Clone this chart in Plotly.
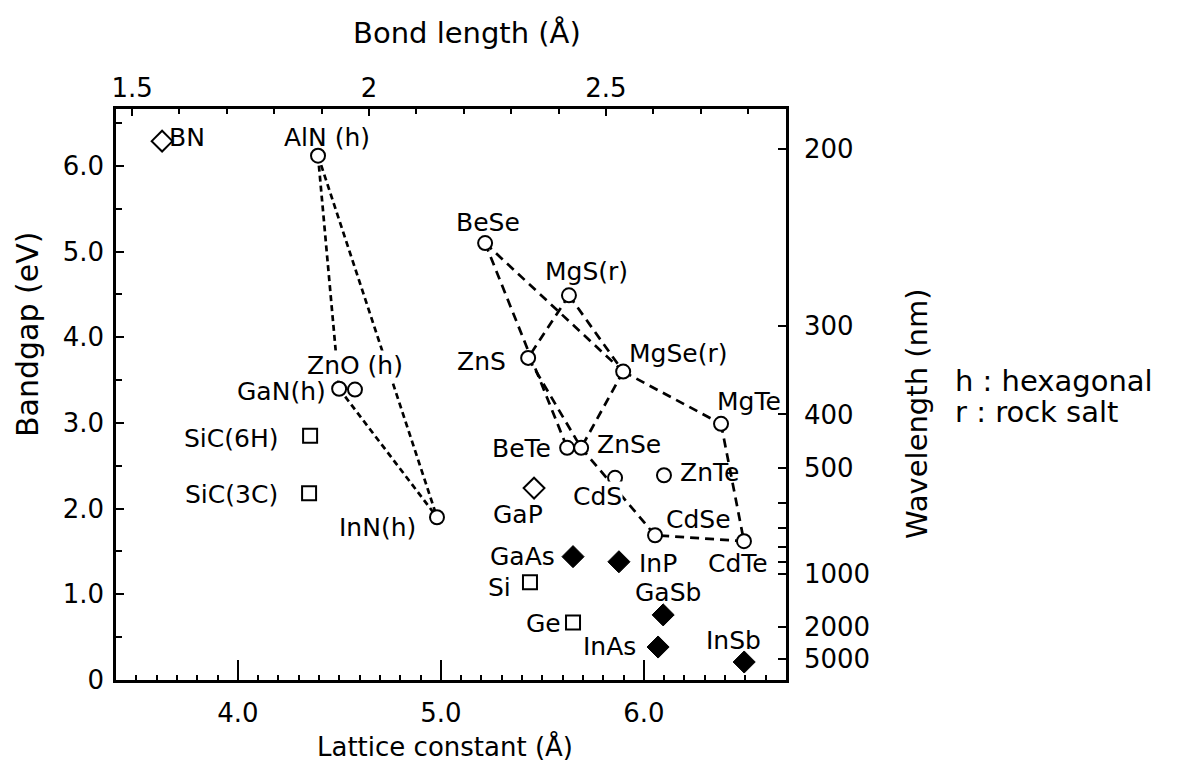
import plotly.graph_objects as go

# ---------------- data ----------------
names = ["BN", "AlN", "GaN", "ZnO", "InN", "SiC(6H)", "SiC(3C)", "BeSe", "MgS", "ZnS",
         "MgSe", "MgTe", "BeTe", "ZnSe", "CdS", "ZnTe", "CdSe", "CdTe", "GaP", "GaAs",
         "InP", "Si", "Ge", "GaSb", "InAs", "InSb"]
labels = ["BN", "AlN (h)", "GaN(h)", "ZnO (h)", "InN(h)", "SiC(6H)", "SiC(3C)", "BeSe", "MgS(r)", "ZnS",
          "MgSe(r)", "MgTe", "BeTe", "ZnSe", "CdS", "ZnTe", "CdSe", "CdTe", "GaP", "GaAs",
          "InP", "Si", "Ge", "GaSb", "InAs", "InSb"]
lattice = [3.627, 4.395, 4.499, 4.577, 4.981, 4.356, 4.351, 5.218, 5.631, 5.430,
           5.898, 6.380, 5.622, 5.691, 5.858, 6.099, 6.055, 6.493, 5.459, 5.651,
           5.877, 5.439, 5.651, 6.095, 6.070, 6.494]
bandgap = [6.29, 6.12, 3.40, 3.39, 1.90, 2.85, 2.18, 5.10, 4.49, 3.76,
           3.60, 2.99, 2.71, 2.71, 2.36, 2.39, 1.69, 1.62, 2.24, 1.44,
           1.38, 1.14, 0.67, 0.76, 0.385, 0.21]
kind = ["diamond-open", "circle", "circle", "circle", "circle", "square", "square", "circle", "circle", "circle",
        "circle", "circle", "circle", "circle", "circle", "circle", "circle", "circle", "diamond-open", "diamond",
        "diamond", "square", "square", "diamond", "diamond", "diamond"]

nitride_lines = [("AlN", "GaN"), ("AlN", "InN"), ("GaN", "InN")]
ii_vi_lines = [("BeSe", "BeTe"), ("BeSe", "MgSe"), ("MgS", "ZnS"), ("MgS", "MgSe"),
               ("ZnS", "ZnSe"), ("MgSe", "ZnSe"), ("MgSe", "MgTe"), ("MgTe", "CdTe"),
               ("CdTe", "CdSe"), ("ZnSe", "CdSe")]

lattice_ticks = [4.0, 5.0, 6.0]
lattice_ticktext = ["4.0", "5.0", "6.0"]
gap_ticks = [0, 1, 2, 3, 4, 5, 6]
gap_ticktext = ["0", "1.0", "2.0", "3.0", "4.0", "5.0", "6.0"]
bond_ticks = [1.5, 2.0, 2.5]
bond_ticktext = ["1.5", "2", "2.5"]
wavelengths = [200, 300, 400, 500, 1000, 2000, 5000]
wavelength_minor = [600, 700, 800, 900]

# ---------------- layout constants (styles / positions) ----------------
X_RANGE = [3.4, 6.7]
Y_RANGE = [0, 6.665]
BOND_RANGE = [1.466, 2.88]
FONT = "DejaVu Sans"

label_offsets = {  # pixel offset (dx right, dy down) of label centre from point
    "BN": (25, -4), "AlN": (9, -18), "GaN": (-58, 3), "ZnO": (0, -24), "InN": (-59, 10),
    "SiC(6H)": (-79, 3), "SiC(3C)": (-78, 1), "BeSe": (3, -21), "MgS": (18, -24),
    "ZnS": (-47, 4), "MgSe": (55, -18), "MgTe": (28, -22), "BeTe": (-46, 1),
    "ZnSe": (48, -3), "CdS": (-18, 19), "ZnTe": (46, -3), "GaP": (-16, 26),
    "CdSe": (43, -16), "CdTe": (-6, 22), "GaAs": (-51, 0), "InP": (39, 2),
    "Si": (-30, 5), "GaSb": (5, -22), "Ge": (-30, 1), "InAs": (-49, -1), "InSb": (-11, -22),
}
masked_labels = {"ZnO", "CdS"}

idx = {n: i for i, n in enumerate(names)}

fig = go.Figure()


def add_lines(pairs, dash):
    xs, ys = [], []
    for a, b in pairs:
        xs += [lattice[idx[a]], lattice[idx[b]], None]
        ys += [bandgap[idx[a]], bandgap[idx[b]], None]
    fig.add_trace(go.Scatter(x=xs, y=ys, mode="lines", showlegend=False, hoverinfo="skip",
                             line=dict(color="black", width=2.7, dash=dash)))


add_lines(nitride_lines, "6px,4px")
add_lines(ii_vi_lines, "9px,6px")

marker_style = {
    "circle": dict(symbol="circle", size=14, color="white", line=dict(color="black", width=2)),
    "square": dict(symbol="square", size=14, color="white", line=dict(color="black", width=2)),
    "diamond-open": dict(symbol="diamond", size=16, color="white", line=dict(color="black", width=2)),
    "diamond": dict(symbol="diamond", size=17, color="black", line=dict(color="black", width=1)),
}
for k, style in marker_style.items():
    sel = [i for i in range(len(names)) if kind[i] == k]
    fig.add_trace(go.Scatter(x=[lattice[i] for i in sel], y=[bandgap[i] for i in sel],
                             mode="markers", marker=style, showlegend=False,
                             text=[names[i] for i in sel], hoverinfo="text"))

# invisible trace so that the secondary (top / right) axes are drawn
fig.add_trace(go.Scatter(x=BOND_RANGE, y=Y_RANGE, xaxis="x2", yaxis="y2", mode="markers",
                         marker=dict(opacity=0), showlegend=False, hoverinfo="skip"))

annotations = []
for i, n in enumerate(names):
    dx, dy = label_offsets[n]
    ann = dict(x=lattice[i], y=bandgap[i], xref="x", yref="y", text=labels[i], showarrow=False,
               xshift=dx, yshift=-dy, font=dict(family=FONT, size=25, color="black"))
    if n in masked_labels:
        ann.update(bgcolor="white", borderpad=0)
    annotations.append(ann)

L, R, T, B = 116, 409, 109, 99
W, H = 1195, 779
pw, ph = W - L - R, H - T - B


def px(xp, yp):
    return (xp - L) / pw, (H - B - yp) / ph


for text, (xp, yp), ang, size in [("Lattice constant (Å)", (445, 746), 0, 26),
                                  ("Bond length (Å)", (467, 33), 0, 29),
                                  ("Bandgap (eV)", (27, 334), -90, 30),
                                  ("Wavelength (nm)", (917, 414), -90, 29)]:
    x, y = px(xp, yp)
    annotations.append(dict(x=x, y=y, xref="paper", yref="paper", text=text, showarrow=False,
                            textangle=ang, font=dict(family=FONT, size=size, color="black"),
                            xanchor="center", yanchor="middle"))
for text, (xp, yp) in [("h : hexagonal", (953, 381)), ("r : rock salt", (953, 412))]:
    x, y = px(xp, yp)
    annotations.append(dict(x=x, y=y, xref="paper", yref="paper", text=text, showarrow=False,
                            font=dict(family=FONT, size=29, color="black"),
                            xanchor="left", yanchor="middle"))

tick_font = dict(family=FONT, size=26, color="black")
axis_common = dict(showline=True, linecolor="black", linewidth=2.5, showgrid=False,
                   zeroline=False, ticks="inside", tickcolor="black", tickfont=tick_font)

fig.update_layout(
    width=W, height=H,
    margin=dict(l=L, r=R, t=T, b=B, pad=0),
    paper_bgcolor="white", plot_bgcolor="white",
    font=dict(family=FONT, color="black"),
    showlegend=False,
    xaxis=dict(range=X_RANGE, tickmode="array", tickvals=lattice_ticks, ticktext=lattice_ticktext,
               ticklen=20, tickwidth=2, ticklabelstandoff=8,
               minor=dict(ticks="inside", tickmode="linear", tick0=0, dtick=0.1, ticklen=5,
                          tickwidth=1.5, tickcolor="black", showgrid=False),
               **axis_common),
    yaxis=dict(range=Y_RANGE, tickmode="array", tickvals=gap_ticks, ticktext=gap_ticktext,
               ticklen=8, tickwidth=2, ticklabelstandoff=4,
               minor=dict(ticks="inside", tickmode="linear", tick0=0, dtick=0.5, ticklen=6,
                          tickwidth=1.5, tickcolor="black", showgrid=False),
               **axis_common),
    xaxis2=dict(range=BOND_RANGE, overlaying="x", side="top", anchor="y",
                tickmode="array", tickvals=bond_ticks, ticktext=bond_ticktext,
                ticklen=7, tickwidth=2, ticklabelstandoff=-1,
                minor=dict(ticks="inside", tickmode="linear", tick0=0, dtick=0.1, ticklen=5,
                           tickwidth=1.5, tickcolor="black", showgrid=False),
                **axis_common),
    yaxis2=dict(range=Y_RANGE, overlaying="y", side="right", anchor="x",
                tickmode="array", tickvals=[1240.0 / w for w in wavelengths],
                ticktext=[str(w) for w in wavelengths],
                ticklen=8, tickwidth=2, ticklabelstandoff=10,
                minor=dict(ticks="inside", tickmode="array",
                           tickvals=[1240.0 / w for w in wavelength_minor], ticklen=8,
                           tickwidth=1.5, tickcolor="black", showgrid=False),
                **axis_common),
    annotations=annotations,
)

fig.write_html("out.html")
